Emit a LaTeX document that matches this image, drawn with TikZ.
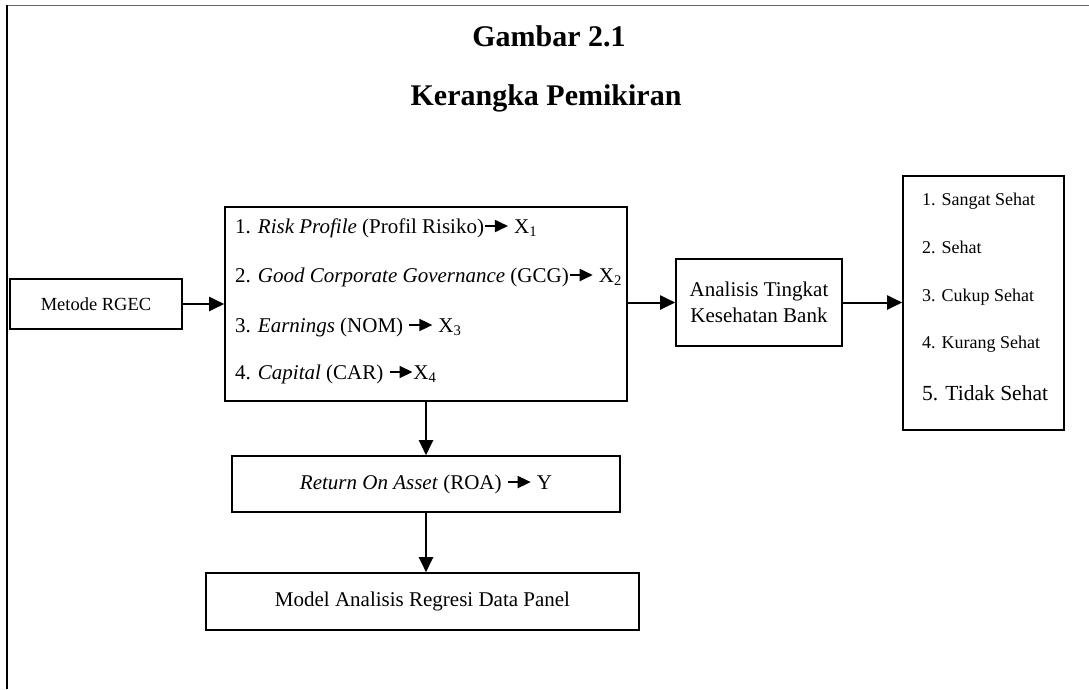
\documentclass[tikz,border=0pt]{standalone}
\usepackage{fontspec}
\setmainfont{Liberation Serif}
\usetikzlibrary{arrows.meta}
\newcommand{\fs}[1]{\fontsize{#1}{#1}\selectfont}
\newcommand{\panah}{\tikz[baseline=-7pt,x=1pt,y=1pt]\draw[line width=1.8pt,-{Triangle[length=13pt,width=12pt]}] (0,0) -- (23,0);}

\begin{document}
\begin{tikzpicture}[x=1pt,y=-1pt,
    kotak/.style={draw,line width=1.6pt,inner sep=0pt},
    alir/.style={line width=2pt,-{Triangle[length=15pt,width=14pt]}},
    teks/.style={anchor=base west,inner sep=0pt,font=\fs{21}}]
    \useasboundingbox (0,0) rectangle (1089,689);
    \draw[black!60,line width=1.5pt] (7,5.5) -- (1089,5.5);
    \draw[line width=1.5pt] (7,5) -- (7,689);
    \node[anchor=base,font=\fs{30}\bfseries] (judul) at (549,46) {Gambar 2.1};
    \node[anchor=base,font=\fs{30}\bfseries] (subjudul) at (546,105) {Kerangka Pemikiran};
    \node[kotak,minimum width=172pt,minimum height=50pt,font=\fs{18.5}] (metode) at (96,304) {Metode RGEC};
    \node[kotak,minimum width=402pt,minimum height=194pt] (rgec) at (426,304) {};
    \foreach \y/\t [count=\i] in {233/{1. \textit{Risk Profile} (Profil Risiko)\panah\ X\textsubscript{1}},
        282/{2. \textit{Good Corporate Governance} (GCG)\panah\ X\textsubscript{2}},
        332/{3. \textit{Earnings} (NOM) \panah\ X\textsubscript{3}},
        379/{4. \textit{Capital} (CAR) \panah X\textsubscript{4}}}
    \node[teks] (x\i) at (235,\y) {\t};
    \node[kotak,minimum width=166pt,minimum height=87pt,align=center,font=\fs{21}] (ana) at (759,302.5) {Analisis Tingkat\\[5pt]Kesehatan Bank};
    \node[kotak,minimum width=161pt,minimum height=254pt] (nilai) at (983.5,303) {};
    \foreach \y/\s/\t [count=\i] in {205/18/{1. Sangat Sehat},253/18/{2. Sehat},301/18/{3. Cukup Sehat},348/18/{4. Kurang Sehat},400/21.5/{5. Tidak Sehat}}
    \node[teks,font=\fs{\s}] (n\i) at (922,\y) {\t};
    \node[kotak,minimum width=388pt,minimum height=56pt,font=\fs{21}] (roa) at (426,484) {\textit{Return On Asset} (ROA) \panah\ Y};
    \node[kotak,minimum width=433pt,minimum height=57pt,font=\fs{21}] (model) at (422.5,601.5) {Model Analisis Regresi Data Panel};
    \draw[alir] (metode.east) -- (metode.east -| rgec.west);
    \draw[alir] (rgec.east |- ana.west) -- (ana.west);
    \draw[alir] (ana.east) -- (ana.east -| nilai.west);
    \draw[alir] (rgec.south) -- (roa.north);
    \draw[alir] (roa.south) -- (roa.south |- model.north);
\end{tikzpicture}
\end{document}
